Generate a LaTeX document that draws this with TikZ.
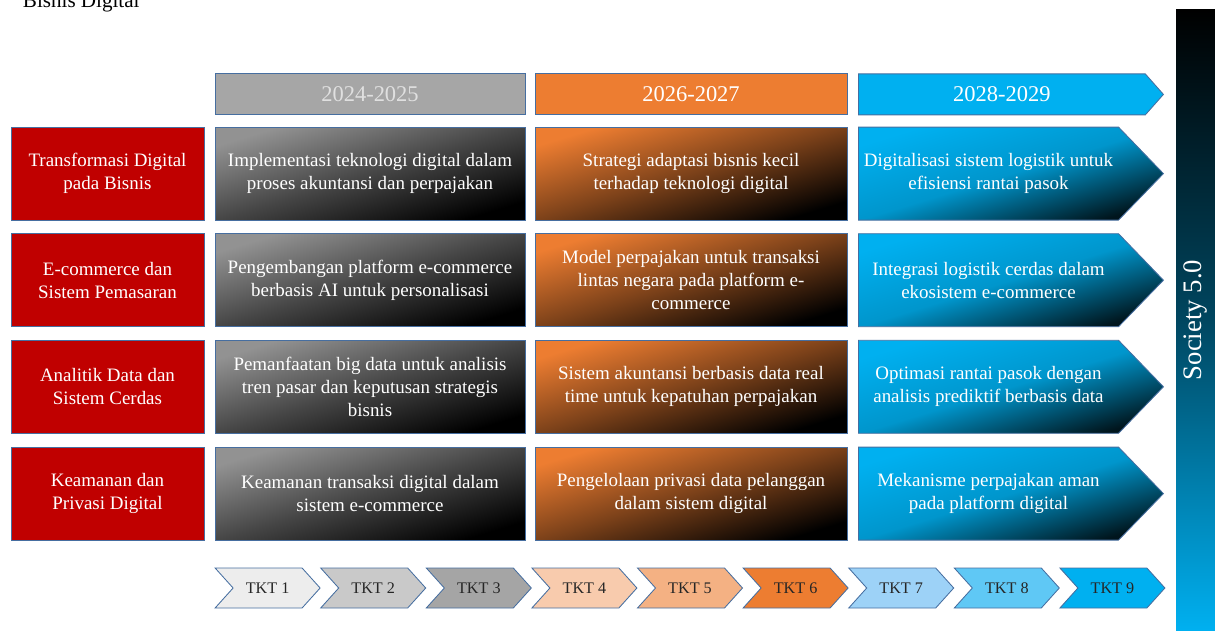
\documentclass[tikz,border=0pt]{standalone}
\usepackage{fontspec}
\setmainfont{Liberation Serif}
\usetikzlibrary{shapes.symbols, positioning}
\definecolor{topicred}{RGB}{192, 0, 0}
\definecolor{phasegray}{RGB}{166, 166, 166}
\definecolor{phaseorange}{RGB}{237, 125, 49}
\definecolor{phaseblue}{RGB}{0, 176, 240}
\definecolor{edgeblue}{RGB}{70, 110, 160}

\tikzset{
  cell/.style={draw=edgeblue, line width=0.6pt, minimum height=2.325cm, align=center,
    text=white, inner sep=1pt, font=\fontsize{13.5}{16.2}\selectfont},
  topic/.style={cell, fill=topicred, minimum width=4.825cm},
  graycell/.style={cell, minimum width=7.75cm, top color=phasegray!88!black,
    bottom color=black, middle color=phasegray!42!black, shading angle=17},
  orangecell/.style={cell, minimum width=7.8cm, top color=phaseorange,
    bottom color=black, middle color=phaseorange!52!black, shading angle=17},
  bluecell/.style={cell, shape=signal, signal to=east, signal pointer angle=92,
    minimum width=7.625cm, anchor=west, top color=phaseblue, bottom color=phaseblue!12!black,
    middle color=phaseblue!85!black, shading angle=17},
  phase/.style={draw=edgeblue, line width=0.6pt, minimum height=1.025cm, text=white,
    font=\fontsize{16}{18}\selectfont},
  tkt/.style={draw=edgeblue, line width=0.6pt, shape=signal, signal from=west, signal to=east,
    signal pointer angle=96, minimum width=2.625cm, minimum height=1cm,
    text=black!85, font=\fontsize{11.5}{14}\selectfont}
}

\definecolor{tkta}{RGB}{237, 237, 237}
\definecolor{tktb}{RGB}{201, 201, 201}
\definecolor{tktc}{RGB}{165, 165, 165}
\definecolor{tktd}{RGB}{248, 203, 173}
\definecolor{tkte}{RGB}{244, 177, 131}
\definecolor{tktf}{RGB}{237, 125, 49}
\definecolor{tktg}{RGB}{157, 210, 247}
\definecolor{tkth}{RGB}{95, 200, 245}
\definecolor{tkti}{RGB}{0, 176, 240}

\begin{document}
\begin{tikzpicture}
  \useasboundingbox (0,0) rectangle (30.375,15.75);

  \node[anchor=base west, font=\fontsize{15}{17}\selectfont] (title) at (0.45,15.56) {Bisnis Digital};

  % phase headers
  \node[phase, fill=phasegray, minimum width=7.75cm, text=white!88!black] (p1) at (9.25,13.39) {2024-2025};
  \node[phase, fill=phaseorange, minimum width=7.8cm] (p2) at (17.275,13.39) {2026-2027};
  \node[phase, fill=phaseblue, shape=signal, signal to=east, signal pointer angle=97,
        minimum width=7.625cm, anchor=west] (p3) at (21.45,13.39) {2028-2029};

  % row 1
  \node[topic] (t1) at (2.6875,11.41) {Transformasi Digital\\pada Bisnis};
  \node[graycell] (a1) at (9.25,11.41) {Implementasi teknologi digital dalam\\proses akuntansi dan perpajakan};
  \node[orangecell] (b1) at (17.275,11.41) {Strategi adaptasi bisnis kecil\\terhadap teknologi digital};
  \node[bluecell] (c1) at (21.45,11.41) {Digitalisasi sistem logistik untuk\\efisiensi rantai pasok};

  % row 2
  \node[topic] (t2) at (2.6875,8.745) {E-commerce dan\\Sistem Pemasaran};
  \node[graycell] (a2) at (9.25,8.745) {Pengembangan platform e-commerce\\berbasis AI untuk personalisasi};
  \node[orangecell] (b2) at (17.275,8.745) {Model perpajakan untuk transaksi\\lintas negara pada platform e-\\commerce};
  \node[bluecell] (c2) at (21.45,8.745) {Integrasi logistik cerdas dalam\\ekosistem e-commerce};

  % row 3
  \node[topic] (t3) at (2.6875,6.08) {Analitik Data dan\\Sistem Cerdas};
  \node[graycell] (a3) at (9.25,6.08) {Pemanfaatan big data untuk analisis\\tren pasar dan keputusan strategis\\bisnis};
  \node[orangecell] (b3) at (17.275,6.08) {Sistem akuntansi berbasis data real\\time untuk kepatuhan perpajakan};
  \node[bluecell] (c3) at (21.45,6.08) {Optimasi rantai pasok dengan\\analisis prediktif berbasis data};

  % row 4
  \node[topic] (t4) at (2.6875,3.41) {Keamanan dan\\Privasi Digital};
  \node[graycell] (a4) at (9.25,3.41) {Keamanan transaksi digital dalam\\sistem e-commerce};
  \node[orangecell] (b4) at (17.275,3.41) {Pengelolaan privasi data pelanggan\\dalam sistem digital};
  \node[bluecell] (c4) at (21.45,3.41) {Mekanisme perpajakan aman\\pada platform digital};

  % readiness levels
  \foreach \i/\c in {1/tkta, 2/tktb, 3/tktc, 4/tktd, 5/tkte, 6/tktf, 7/tktg, 8/tkth, 9/tkti}
    \node[tkt, fill=\c] (tkt\i) at ({6.69+(\i-1)*2.64},1.05) {TKT \i};

  % side bar
  \node[minimum width=0.975cm, minimum height=15.5cm, inner sep=0pt, top color=black,
        bottom color=phaseblue, middle color=phaseblue!40!black] (bar) at (29.8875,7.75) {};
  \node[rotate=90, text=white, font=\fontsize{19}{21}\selectfont] (society) at (bar.center) {Society 5.0};
\end{tikzpicture}
\end{document}
